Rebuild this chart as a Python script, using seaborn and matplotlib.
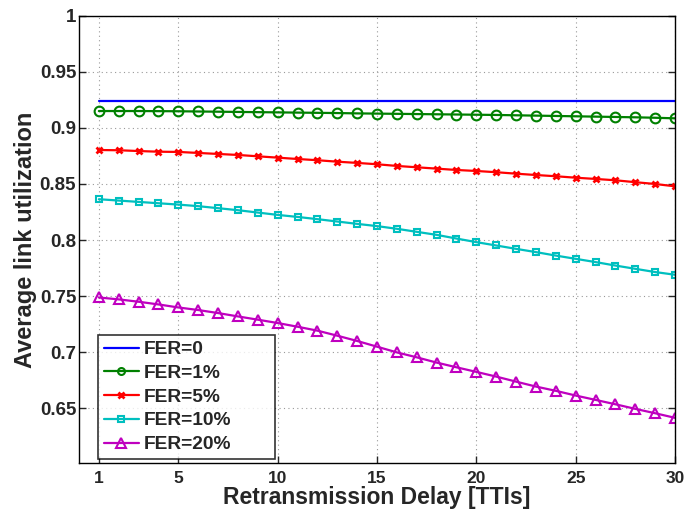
import numpy as np
import pandas as pd
import matplotlib
matplotlib.use("Agg")
import matplotlib.pyplot as plt
import seaborn as sns

delay = list(range(1, 31))
fer0 = [0.9243] * 30
fer1 = [0.9151, 0.9151, 0.9151, 0.9150, 0.9149, 0.9147, 0.9145, 0.9143, 0.9141, 0.9139,
        0.9137, 0.9135, 0.9133, 0.9130, 0.9128, 0.9126, 0.9124, 0.9122, 0.9120, 0.9118,
        0.9116, 0.9113, 0.9110, 0.9107, 0.9104, 0.9101, 0.9098, 0.9095, 0.9091, 0.9086]
fer5 = [0.8803, 0.8801, 0.8794, 0.8788, 0.8786, 0.8777, 0.8768, 0.8759, 0.8747, 0.8735,
        0.8723, 0.8712, 0.8699, 0.8688, 0.8676, 0.8661, 0.8649, 0.8637, 0.8625, 0.8616,
        0.8605, 0.8592, 0.8580, 0.8569, 0.8556, 0.8545, 0.8533, 0.8516, 0.8500, 0.8479]
fer10 = [0.8364, 0.8352, 0.8340, 0.8328, 0.8316, 0.8302, 0.8284, 0.8266, 0.8245, 0.8224,
         0.8206, 0.8186, 0.8165, 0.8144, 0.8124, 0.8100, 0.8073, 0.8046, 0.8013, 0.7981,
         0.7951, 0.7921, 0.7892, 0.7861, 0.7832, 0.7803, 0.7772, 0.7743, 0.7714, 0.7690]
fer20 = [0.7487, 0.7470, 0.7449, 0.7425, 0.7398, 0.7375, 0.7348, 0.7318, 0.7289, 0.7259,
         0.7226, 0.7191, 0.7146, 0.7099, 0.7048, 0.6997, 0.6953, 0.6906, 0.6864, 0.6823,
         0.6781, 0.6736, 0.6692, 0.6654, 0.6612, 0.6573, 0.6534, 0.6493, 0.6454, 0.6413]

labels = ["FER=0", "FER=1%", "FER=5%", "FER=10%", "FER=20%"]
series = [fer0, fer1, fer5, fer10, fer20]
colors = ["#0000ff", "#008000", "#ff0000", "#00bfbf", "#bf00bf"]
markers = [None, "o", "x", "s", "^"]
msizes = [0, 7, 5, 5, 7.5]
leg_msizes = [0, 5, 4, 4, 7]

xticks = [1, 5, 10, 15, 20, 25, 30]
yticks = [0.65, 0.7, 0.75, 0.8, 0.85, 0.9, 0.95, 1]
ytick_labels = ["0.65", "0.7", "0.75", "0.8", "0.85", "0.9", "0.95", "1"]

sns.set_style("white")
plt.rcParams['font.family'] = ['Liberation Sans', 'DejaVu Sans']
plt.rcParams['font.weight'] = 'bold'

fig = plt.figure(figsize=(6.87, 5.13), dpi=100)
ax = fig.add_axes([0.115, 0.0975, 0.8675, 0.8715])

for lab, ys, c, m, ms in zip(labels, series, colors, markers, msizes):
    df = pd.DataFrame({"x": delay, "y": ys})
    kw = dict(color=c, linewidth=1.6, label=lab, ax=ax)
    if m is not None:
        if m == "x":
            kw.update(marker=m, markersize=ms, markeredgewidth=2, markeredgecolor=c)
        else:
            kw.update(marker=m, markersize=ms, markerfacecolor="none",
                      markeredgewidth=1.5, markeredgecolor=c)
    sns.lineplot(data=df, x="x", y="y", **kw)

ax.set_xlim(0, 30)
ax.set_ylim(0.601, 1.0)
ax.set_xticks(xticks)
ax.set_yticks(yticks)
ax.set_yticklabels(ytick_labels)
ax.grid(True, linestyle=(0, (1, 3)), color="#999999", linewidth=0.8)
ax.tick_params(direction="in", length=5, width=1,
               top=False, right=True, left=True, bottom=True)
ax.tick_params(axis="x", pad=6, labelsize=12.5)
ax.tick_params(axis="y", pad=2, labelsize=13.5)
for lbl in ax.get_xticklabels() + ax.get_yticklabels():
    lbl.set_fontweight("bold")
for s in ax.spines.values():
    s.set_visible(True)
    s.set_color("black")
    s.set_linewidth(1)

ax.set_xlabel("Retransmission Delay [TTIs]", fontsize=16.5, fontweight="bold", labelpad=0)
ax.set_ylabel("Average link utilization", fontsize=17, fontweight="bold", labelpad=2)

leg = ax.legend(loc="lower left", bbox_to_anchor=(0.032, 0.009, 0.297, 0.275),
                mode="expand", frameon=True,
                fancybox=False, edgecolor="black",
                prop={"weight": "bold", "size": 13.8}, handlelength=1.84,
                borderpad=0.3, labelspacing=0.33, handletextpad=0.25, numpoints=1,
                borderaxespad=0)
leg.get_frame().set_linewidth(1.2)
for h, lms in zip(leg.legend_handles, leg_msizes):
    if lms:
        h.set_markersize(lms)

fig.savefig("out.png", dpi=100)
